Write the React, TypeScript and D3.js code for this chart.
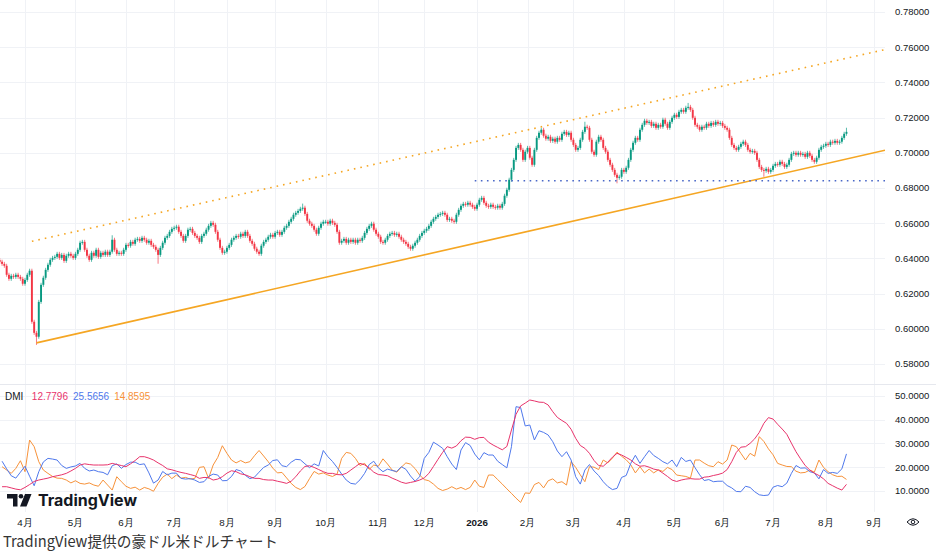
import React, { useEffect, useRef } from 'react'
import * as d3 from 'd3'

const W = 936
const H = 551

// AUD/USD daily closes, one per weekday starting 2025-03-17
const closes = [
  0.6381, 0.6369, 0.6358, 0.6307, 0.6284, 0.6301, 0.6295, 0.6307, 0.6295, 0.6284,
  0.6256, 0.6278, 0.6307, 0.6330, 0.6040, 0.5977, 0.5955, 0.6153, 0.6250, 0.6290,
  0.6335, 0.6364, 0.6392, 0.6403, 0.6409, 0.6426, 0.6403, 0.6420, 0.6386, 0.6415,
  0.6426, 0.6415, 0.6403, 0.6426, 0.6449, 0.6489, 0.6494, 0.6449, 0.6415, 0.6392,
  0.6432, 0.6415, 0.6449, 0.6409, 0.6432, 0.6420, 0.6438, 0.6420, 0.6438, 0.6506,
  0.6449, 0.6426, 0.6432, 0.6426, 0.6449, 0.6477, 0.6472, 0.6494, 0.6483, 0.6506,
  0.6511, 0.6500, 0.6517, 0.6506, 0.6489, 0.6500, 0.6477, 0.6466, 0.6449, 0.6420,
  0.6460, 0.6489, 0.6517, 0.6528, 0.6551, 0.6568, 0.6574, 0.6580, 0.6551, 0.6528,
  0.6500, 0.6528, 0.6563, 0.6568, 0.6545, 0.6528, 0.6517, 0.6494, 0.6528, 0.6540,
  0.6563, 0.6585, 0.6602, 0.6591, 0.6551, 0.6506, 0.6460, 0.6432, 0.6438, 0.6460,
  0.6477, 0.6506, 0.6517, 0.6528, 0.6523, 0.6540, 0.6528, 0.6551, 0.6528, 0.6500,
  0.6483, 0.6455, 0.6438, 0.6426, 0.6472, 0.6494, 0.6506, 0.6523, 0.6534, 0.6523,
  0.6545, 0.6551, 0.6534, 0.6551, 0.6574, 0.6585, 0.6608, 0.6625, 0.6648, 0.6659,
  0.6670, 0.6682, 0.6688, 0.6653, 0.6614, 0.6597, 0.6585, 0.6563, 0.6540, 0.6574,
  0.6597, 0.6608, 0.6608, 0.6597, 0.6614, 0.6602, 0.6591, 0.6551, 0.6489, 0.6500,
  0.6511, 0.6489, 0.6506, 0.6494, 0.6506, 0.6489, 0.6506, 0.6500, 0.6517, 0.6545,
  0.6568, 0.6585, 0.6597, 0.6563, 0.6540, 0.6523, 0.6494, 0.6489, 0.6506, 0.6528,
  0.6540, 0.6545, 0.6534, 0.6540, 0.6523, 0.6506, 0.6494, 0.6483, 0.6466, 0.6455,
  0.6472, 0.6489, 0.6506, 0.6528, 0.6545, 0.6557, 0.6568, 0.6585, 0.6608, 0.6625,
  0.6636, 0.6648, 0.6653, 0.6659, 0.6648, 0.6619, 0.6625, 0.6614, 0.6608, 0.6648,
  0.6676, 0.6699, 0.6710, 0.6705, 0.6716, 0.6705, 0.6693, 0.6682, 0.6705, 0.6733,
  0.6744, 0.6716, 0.6699, 0.6693, 0.6705, 0.6693, 0.6688, 0.6699, 0.6688, 0.6710,
  0.6756, 0.6790, 0.6847, 0.6903, 0.6960, 0.7028, 0.7045, 0.7017, 0.6960, 0.7006,
  0.7028, 0.6972, 0.6932, 0.7017, 0.7085, 0.7114, 0.7131, 0.7097, 0.7080, 0.7091,
  0.7068, 0.7080, 0.7063, 0.7085, 0.7074, 0.7108, 0.7119, 0.7102, 0.7114, 0.7074,
  0.7045, 0.7017, 0.7028, 0.7074, 0.7119, 0.7148, 0.7142, 0.7074, 0.7006, 0.6989,
  0.7063, 0.7091, 0.7074, 0.7028, 0.7006, 0.6960, 0.6932, 0.6903, 0.6875, 0.6858,
  0.6864, 0.6903, 0.6892, 0.6915, 0.6960, 0.7017, 0.7057, 0.7085, 0.7074, 0.7131,
  0.7159, 0.7182, 0.7170, 0.7176, 0.7153, 0.7165, 0.7142, 0.7159, 0.7148, 0.7188,
  0.7165, 0.7142, 0.7176, 0.7199, 0.7216, 0.7204, 0.7233, 0.7244, 0.7233, 0.7256,
  0.7261, 0.7244, 0.7199, 0.7159, 0.7148, 0.7131, 0.7148, 0.7142, 0.7165, 0.7153,
  0.7170, 0.7159, 0.7176, 0.7165, 0.7170, 0.7153, 0.7142, 0.7131, 0.7085, 0.7045,
  0.7028, 0.7017, 0.7034, 0.7051, 0.7063, 0.7045, 0.7017, 0.7006, 0.7011, 0.7000,
  0.6960, 0.6920, 0.6903, 0.6898, 0.6909, 0.6892, 0.6903, 0.6926, 0.6937, 0.6932,
  0.6949, 0.6937, 0.6920, 0.6932, 0.6960, 0.6994, 0.7000, 0.6989, 0.7000, 0.6989,
  0.6994, 0.6977, 0.7000, 0.6983, 0.6960, 0.6949, 0.6972, 0.7017, 0.7034, 0.7040,
  0.7051, 0.7045, 0.7063, 0.7057, 0.7068, 0.7057, 0.7063, 0.7085, 0.7108, 0.7119,
]
const firstOpen = 0.6390

// wicks that reach well past the body
const wickExtremes = [
  { bar: 16, low: 0.5920 },
  { bar: 49, high: 0.6520 },
  { bar: 69, low: 0.6381 },
  { bar: 132, high: 0.6700 },
  { bar: 255, high: 0.7165 },
  { bar: 269, low: 0.6838 },
  { bar: 300, high: 0.7272 },
  { bar: 333, low: 0.6875 },
  { bar: 369, high: 0.7131 },
]

const priceTicks = [0.58, 0.6, 0.62, 0.64, 0.66, 0.68, 0.7, 0.72, 0.74, 0.76, 0.78]
const dmiTicks = [10, 20, 30, 40, 50]

// DMI sampled every 2nd bar starting at bar 1
const dmiStart = 1
const dmiStep = 2
const adx = [
  11.8, 11.8, 11.3, 10.8, 10.5, 11.5, 12.7, 14.0, 14.6, 15.0,
  15.4, 16.0, 16.4, 16.8, 17.4, 18.4, 19.5, 20.9, 21.4, 21.1,
  20.9, 20.9, 20.9, 21.0, 21.6, 21.1, 20.7, 20.2, 21.4, 22.8,
  24.4, 24.4, 23.8, 23.0, 21.8, 20.7, 19.3, 18.9, 18.3, 17.8,
  17.4, 16.9, 16.4, 15.3, 15.7, 15.6, 14.6, 15.0, 16.0, 17.5,
  18.5, 18.1, 17.2, 16.8, 16.0, 15.3, 15.3, 14.8, 14.6, 14.6,
  14.1, 13.7, 13.2, 14.1, 16.0, 18.4, 20.3, 20.6, 19.9, 19.0,
  18.1, 17.4, 17.4, 16.9, 16.8, 17.4, 18.8, 20.2, 21.6, 21.0,
  19.7, 17.9, 16.9, 16.7, 16.4, 15.4, 14.6, 13.7, 13.2, 13.6,
  14.0, 14.6, 15.5, 17.4, 20.3, 23.3, 26.2, 28.6, 28.0, 28.9,
  31.1, 32.6, 32.5, 31.7, 32.4, 32.5, 30.5, 29.3, 28.3, 27.3,
  28.7, 35.6, 42.2, 45.7, 46.9, 48.2, 47.8, 47.3, 47.2, 46.1,
  43.3, 40.9, 39.6, 38.4, 35.9, 32.1, 29.1, 27.9, 25.8, 22.8,
  20.7, 20.4, 22.1, 24.2, 25.8, 25.1, 24.1, 23.0, 21.4, 20.4,
  20.6, 20.0, 19.2, 18.8, 17.5, 16.1, 14.6, 14.0, 14.6, 15.0,
  15.2, 15.0, 15.0, 15.8, 16.0, 16.5, 16.9, 17.5, 19.0, 22.3,
  26.2, 28.4, 28.6, 30.0, 31.9, 34.6, 38.4, 40.8, 40.2, 38.0,
  36.0, 33.8, 30.1, 26.5, 23.5, 20.7, 18.8, 17.5, 16.5, 15.1,
  13.2, 12.2, 11.2, 10.4, 12.78,
]
const plusDI = [
  22.5, 19.3, 16.4, 15.4, 17.9, 20.4, 16.2, 12.2, 18.1, 22.2,
  23.7, 23.4, 23.0, 20.7, 19.5, 20.1, 20.5, 21.6, 19.5, 18.4,
  18.8, 18.1, 17.8, 16.8, 20.6, 21.4, 19.5, 21.1, 22.1, 22.1,
  21.1, 21.4, 17.6, 13.3, 14.6, 18.2, 16.8, 17.5, 17.5, 15.3,
  15.0, 15.2, 14.6, 13.6, 13.9, 16.1, 17.1, 16.7, 14.3, 14.4,
  16.1, 19.0, 18.4, 16.6, 15.2, 15.8, 17.9, 19.9, 20.9, 22.8,
  23.1, 20.6, 20.2, 22.1, 23.3, 23.1, 21.4, 19.8, 21.4, 20.5,
  27.0, 24.4, 22.4, 19.9, 17.1, 14.6, 13.2, 12.9, 14.7, 17.4,
  21.1, 22.5, 19.7, 18.1, 19.2, 18.6, 18.2, 20.2, 19.1, 16.3,
  14.1, 16.0, 23.7, 26.2, 30.5, 29.3, 27.9, 24.4, 21.3, 19.0,
  27.2, 30.3, 29.1, 25.5, 23.1, 26.1, 25.1, 25.1, 22.5, 21.1,
  19.7, 28.6, 45.4, 45.0, 37.3, 37.7, 31.4, 35.3, 34.6, 33.5,
  30.7, 26.8, 24.4, 26.5, 23.0, 16.0, 12.9, 18.8, 21.1, 18.4,
  16.5, 13.9, 11.9, 10.6, 11.1, 15.7, 16.5, 21.6, 25.0, 21.6,
  24.4, 27.0, 24.9, 23.7, 22.3, 21.4, 23.0, 20.2, 24.1, 22.4,
  23.0, 19.8, 16.8, 14.4, 14.8, 13.9, 14.1, 14.1, 12.3, 11.3,
  9.8, 9.7, 12.0, 11.5, 9.7, 8.4, 8.1, 8.3, 11.6, 12.3,
  11.8, 13.3, 17.4, 20.7, 19.6, 19.7, 18.1, 17.6, 15.1, 19.0,
  17.4, 17.8, 17.4, 19.3, 25.57,
]
const minusDI = [
  20.2, 18.8, 17.4, 19.5, 22.7, 18.1, 31.4, 28.6, 22.3, 18.8,
  17.4, 16.1, 15.4, 15.3, 14.6, 13.4, 14.3, 13.2, 12.9, 13.4,
  12.5, 12.0, 14.6, 12.5, 10.4, 16.0, 13.9, 12.0, 11.1, 11.6,
  10.4, 11.5, 10.9, 9.9, 13.2, 15.8, 17.1, 15.2, 16.7, 15.4,
  15.7, 15.0, 15.3, 19.9, 20.2, 15.3, 20.9, 24.1, 29.0, 25.8,
  23.0, 21.8, 22.8, 21.8, 22.3, 24.8, 27.0, 24.7, 22.3, 19.6,
  17.6, 17.8, 15.5, 13.2, 11.5, 10.6, 11.9, 15.2, 18.2, 17.1,
  17.6, 16.7, 16.1, 17.1, 23.7, 26.2, 25.8, 23.7, 20.7, 21.6,
  19.1, 20.9, 20.4, 23.5, 21.3, 18.8, 17.9, 20.0, 21.8, 21.3,
  19.4, 16.7, 14.8, 14.3, 12.9, 11.1, 10.2, 10.8, 11.8, 10.8,
  11.5, 10.6, 11.5, 14.6, 12.0, 11.5, 16.7, 16.7, 14.8, 12.9,
  10.9, 9.0, 7.0, 5.2, 9.2, 9.0, 12.7, 13.6, 11.3, 14.3,
  15.1, 13.4, 13.9, 12.5, 22.3, 19.9, 16.8, 13.9, 20.2, 20.0,
  19.0, 23.0, 21.8, 23.8, 26.3, 24.6, 23.1, 21.0, 17.6, 20.2,
  17.6, 19.2, 17.6, 18.9, 18.2, 19.9, 19.0, 16.7, 16.4, 16.1,
  15.4, 23.0, 23.0, 21.7, 20.6, 20.2, 22.3, 21.3, 23.0, 29.3,
  28.6, 25.8, 23.0, 25.8, 24.6, 32.8, 30.8, 27.7, 25.2, 21.6,
  20.9, 20.3, 20.2, 18.3, 17.6, 17.8, 18.8, 17.9, 23.0, 19.9,
  18.1, 16.8, 16.1, 16.2, 14.86,
]
const legendValues = ['12.7796', '25.5656', '14.8595']

// drawings: two anchor points each, extended to the right edge
const supportLine = [{ bar: 16, price: 0.5920 }, { bar: 333, price: 0.6858 }]
const channelTop = [{ bar: 14, price: 0.6497 }, { bar: 300, price: 0.7335 }]
const horizontalLevel = { bar: 207, price: 0.6841 }

const startDate = new Date(2025, 2, 17)
const endDate = new Date(2026, 8, 30)

const caption = 'TradingView提供の豪ドル米ドルチャート'

const UP = '#089981'
const DOWN = '#f23645'
const ORANGE = '#f5a623'
const GRID = '#f0f2f6'
const TEXT = '#131722'
const FONT = "'Liberation Sans', Arial, sans-serif"

export default function App() {
  const svgRef = useRef<SVGSVGElement>(null)

  useEffect(() => {
    if (!svgRef.current) return
    const svg = d3.select(svgRef.current)
    svg.selectAll('*').remove()

    const paneRight = 885
    const priceBottom = 384
    const dmiTop = 385
    const dmiBottom = 512

    // trading days (weekdays)
    const days: Date[] = []
    for (let d = new Date(startDate); d <= endDate; d.setDate(d.getDate() + 1)) {
      const wd = d.getDay()
      if (wd !== 0 && wd !== 6) days.push(new Date(d))
    }
    const monthTicks = days
      .map((d, i) => ({ d, i }))
      .filter(({ d, i }) => i > 0 && d.getMonth() !== days[i - 1].getMonth())
    const iApr = monthTicks.find(t => t.d.getFullYear() === 2025 && t.d.getMonth() === 3)!.i
    const iSep = monthTicks.find(t => t.d.getFullYear() === 2026 && t.d.getMonth() === 8)!.i

    const x = d3.scaleLinear().domain([iApr, iSep]).range([25, 874])
    const y = d3.scaleLinear().domain([0.58, 0.78]).range([364, 12])
    const yd = d3.scaleLinear().domain([10, 50]).range([491, 395.7])

    svg.append('rect').attr('width', W).attr('height', H).attr('fill', '#fff')

    const defs = svg.append('defs')
    defs.append('clipPath').attr('id', 'pricePane')
      .append('rect').attr('x', 0).attr('y', 0).attr('width', paneRight).attr('height', priceBottom)
    defs.append('clipPath').attr('id', 'dmiPane')
      .append('rect').attr('x', 0).attr('y', dmiTop).attr('width', paneRight).attr('height', dmiBottom - dmiTop)

    // Grid
    const grid = svg.append('g').attr('stroke', GRID).attr('stroke-width', 1)
    monthTicks.filter(t => x(t.i) < paneRight).forEach(t => {
      const gx = Math.round(x(t.i)) + 0.5
      grid.append('line').attr('x1', gx).attr('x2', gx).attr('y1', 0).attr('y2', dmiBottom)
    })
    priceTicks.forEach(p => {
      const gy = Math.round(y(p)) + 0.5
      grid.append('line').attr('x1', 0).attr('x2', paneRight).attr('y1', gy).attr('y2', gy)
    })
    dmiTicks.forEach(v => {
      const gy = Math.round(yd(v)) + 0.5
      grid.append('line').attr('x1', 0).attr('x2', paneRight).attr('y1', gy).attr('y2', gy)
    })
    svg.append('line')
      .attr('x1', 0).attr('x2', W).attr('y1', priceBottom + 0.5).attr('y2', priceBottom + 0.5)
      .attr('stroke', '#e6e8ee')

    // Candles
    const candles = closes.map((c, i) => {
      const o = i === 0 ? firstOpen : closes[i - 1]
      const ext = wickExtremes.find(e => e.bar === i)
      return {
        i, o, c,
        hi: Math.max(o, c, ext?.high ?? 0),
        lo: Math.min(o, c, ext?.low ?? 1),
      }
    })
    const price = svg.append('g').attr('clip-path', 'url(#pricePane)')
    const bodyW = 1.9
    const cg = price.selectAll('g.candle').data(candles).enter().append('g')
      .attr('class', 'candle')
      .attr('fill', d => (d.c >= d.o ? UP : DOWN))
      .attr('stroke', d => (d.c >= d.o ? UP : DOWN))
    cg.append('line')
      .attr('x1', d => x(d.i)).attr('x2', d => x(d.i))
      .attr('y1', d => y(d.hi) - 2).attr('y2', d => y(d.lo) + 2)
      .attr('stroke-width', 0.9)
      .attr('stroke-opacity', 0.75)
    cg.append('rect')
      .attr('x', d => x(d.i) - bodyW / 2)
      .attr('width', bodyW)
      .attr('y', d => y(Math.max(d.o, d.c)))
      .attr('height', d => Math.max(1, Math.abs(y(d.o) - y(d.c))))
      .attr('stroke', 'none')

    // Drawings
    const barAtEdge = x.invert(paneRight)
    const extend = (pts: { bar: number; price: number }[]) => {
      const slope = (pts[1].price - pts[0].price) / (pts[1].bar - pts[0].bar)
      return [
        [x(pts[0].bar), y(pts[0].price)],
        [paneRight, y(pts[0].price + slope * (barAtEdge - pts[0].bar))],
      ] as [number, number][]
    }
    const line = d3.line()
    price.append('path')
      .attr('d', line(extend(supportLine)))
      .attr('fill', 'none').attr('stroke', ORANGE).attr('stroke-width', 1.6)
    price.append('path')
      .attr('d', line(extend(channelTop)))
      .attr('fill', 'none').attr('stroke', ORANGE).attr('stroke-width', 1.6)
      .attr('stroke-dasharray', '1.6,5')
    price.append('line')
      .attr('x1', x(horizontalLevel.bar)).attr('x2', paneRight)
      .attr('y1', y(horizontalLevel.price)).attr('y2', y(horizontalLevel.price))
      .attr('stroke', '#4a68c8').attr('stroke-width', 1.6)
      .attr('stroke-dasharray', '1.6,4.5')

    // Price scale labels
    svg.append('g').selectAll('text').data(priceTicks).enter().append('text')
      .attr('x', 895).attr('y', d => y(d)).attr('dy', '0.35em')
      .attr('font-family', FONT).attr('font-size', 9.5).attr('fill', TEXT)
      .text(d => d3.format('.5f')(d))

    // DMI pane
    const dmi = svg.append('g').attr('clip-path', 'url(#dmiPane)')
    const dmiLine = d3.line<number>()
      .x((_, k) => x(dmiStart + k * dmiStep))
      .y(v => yd(v))
    const series = [
      { values: minusDI, color: '#f7923a' },
      { values: plusDI, color: '#4f78ec' },
      { values: adx, color: '#e8336b' },
    ]
    series.forEach(s => {
      dmi.append('path')
        .attr('d', dmiLine(s.values))
        .attr('fill', 'none').attr('stroke', s.color).attr('stroke-width', 1)
        .attr('stroke-linejoin', 'round')
    })
    svg.append('g').selectAll('text').data(dmiTicks).enter().append('text')
      .attr('x', 895).attr('y', d => yd(d)).attr('dy', '0.35em')
      .attr('font-family', FONT).attr('font-size', 9.5).attr('fill', TEXT)
      .text(d => d3.format('.4f')(d))

    // Legend
    const legend = svg.append('text')
      .attr('x', 5).attr('y', 400)
      .attr('font-family', FONT).attr('font-size', 10)
    legend.append('tspan').attr('fill', TEXT).text('DMI')
    const legendColors = ['#e8336b', '#4f78ec', '#f7923a']
    legendValues.forEach((v, k) => {
      legend.append('tspan').attr('dx', k === 0 ? 8.5 : 5).attr('fill', legendColors[k]).text(v)
    })

    // TradingView logo
    const logo = svg.append('g').attr('fill', TEXT)
    logo.append('path').attr('d', 'M7,494 H17.5 V506.5 H13 V498.5 H7 Z')
    logo.append('circle').attr('cx', 21).attr('cy', 496.3).attr('r', 2.3)
    logo.append('path').attr('d', 'M25,494 H31.5 L26.5,506.5 H20 Z')
    svg.append('text')
      .attr('x', 38).attr('y', 506)
      .attr('font-family', "Inter, 'Liberation Sans', Arial, sans-serif")
      .attr('font-weight', 700).attr('font-size', 15.5).attr('fill', TEXT)
      .attr('textLength', 99).attr('lengthAdjust', 'spacingAndGlyphs')
      .text('TradingView')

    // Time axis
    svg.append('g').selectAll('text')
      .data(monthTicks.filter(t => x(t.i) < paneRight))
      .enter().append('text')
      .attr('x', d => x(d.i)).attr('y', 526)
      .attr('text-anchor', 'middle')
      .attr('font-family', FONT).attr('font-size', 9.8).attr('fill', TEXT)
      .attr('font-weight', d => (d.d.getMonth() === 0 ? 700 : 400))
      .text(d => (d.d.getMonth() === 0 ? String(d.d.getFullYear()) : `${d.d.getMonth() + 1}月`))

    // eye icon
    const eye = svg.append('g').attr('fill', 'none').attr('stroke', TEXT).attr('stroke-width', 1)
    eye.append('path').attr('d', 'M907,522 Q913,515.5 919,522 Q913,528.5 907,522 Z')
    eye.append('circle').attr('cx', 913).attr('cy', 522).attr('r', 1.8)

    // Caption
    svg.append('text')
      .attr('x', 3).attr('y', 547)
      .attr('font-family', "'Noto Sans CJK JP', 'Noto Sans', sans-serif")
      .attr('font-size', 15).attr('fill', '#333')
      .attr('textLength', 275).attr('lengthAdjust', 'spacingAndGlyphs')
      .text(caption)
  }, [])

  return (
    <svg
      ref={svgRef}
      width={W}
      height={H}
      style={{ position: 'absolute', left: 0, top: 0, display: 'block' }}
    />
  )
}
